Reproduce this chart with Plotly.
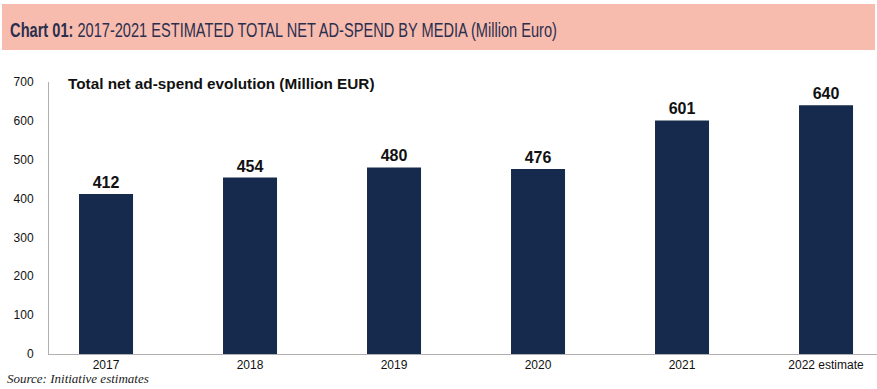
import plotly.graph_objects as go

categories = ["2017", "2018", "2019", "2020", "2021", "2022 estimate"]
values = [412, 454, 480, 476, 601, 640]
y_ticks = [0, 100, 200, 300, 400, 500, 600, 700]

W, H = 877, 389
L, R, T, B = 49, 0, 82, 35
pw, ph = W - L - R, H - T - B

def px(x):
    return (x - L) / pw

def py(y):
    return (H - B - y) / ph

fig = go.Figure()
fig.add_trace(go.Bar(
    x=categories, y=values,
    marker=dict(color="#152a4c", line=dict(width=0)),
    text=[f"<b>{v}</b>" for v in values], textposition="outside",
    textfont=dict(family="Liberation Sans, Arial", size=16, color="#111111"),
    cliponaxis=False, width=0.375, hoverinfo="skip",
))

fig.update_layout(
    width=W, height=H,
    margin=dict(l=L, r=R, t=T, b=B),
    paper_bgcolor="white", plot_bgcolor="white",
    showlegend=False,
    bargap=0.625,
    font=dict(family="Liberation Sans, Arial", size=12, color="#222222"),
    xaxis=dict(
        type="category", range=[-0.396, 5.354],
        showline=True, linecolor="#b0b0b0", linewidth=1,
        ticks="", showgrid=False, zeroline=False,
        tickfont=dict(size=12, color="#111111"),
    ),
    yaxis=dict(
        range=[0, 700], tickvals=y_ticks,
        showline=True, linecolor="#b0b0b0", linewidth=1,
        showgrid=False, zeroline=False, ticks="", ticklen=0,
        tickfont=dict(size=12, color="#111111"),
        ticklabelstandoff=12,
    ),
    shapes=[dict(
        type="rect", xref="paper", yref="paper",
        x0=px(2), x1=px(875), y0=py(50), y1=py(4),
        fillcolor="#f8bcae", line=dict(width=0), layer="below",
    )],
    annotations=[
        dict(xref="paper", yref="paper", x=px(8), y=py(29), xanchor="left", yanchor="middle",
             text="<b>Chart 01:</b> 2017-2021 ESTIMATED TOTAL NET AD-SPEND BY MEDIA (Million Euro)",
             showarrow=False,
             font=dict(family="Liberation Sans, Arial", size=21, color="#2b2f4e")),
        dict(xref="paper", yref="paper", x=px(66), y=py(83), xanchor="left", yanchor="middle",
             text="<b>Total net ad-spend evolution (Million EUR)</b>", showarrow=False,
             font=dict(family="Liberation Sans, Arial", size=15.3, color="#111111")),
        dict(xref="paper", yref="paper", x=px(5), y=py(378), xanchor="left", yanchor="middle",
             text="<i>Source: Initiative estimates</i>", showarrow=False,
             font=dict(family="Liberation Serif, Times New Roman", size=13, color="#222222")),
    ],
)

post = """
document.body.style.margin='0';
document.body.style.overflow='hidden';
var texts = document.querySelectorAll('text.annotation-text');
texts.forEach(function(t){
  if (t.textContent.indexOf('Chart 01') === 0) {
    var bb = t.getBBox();
    var sx = 547 / bb.width;
    t.style.transformBox = 'fill-box';
    t.style.transformOrigin = 'left center';
    t.style.transform = 'scaleX(' + sx + ')';
  }
});
"""

fig.write_html("out.html", config={"displayModeBar": False}, post_script=post)
